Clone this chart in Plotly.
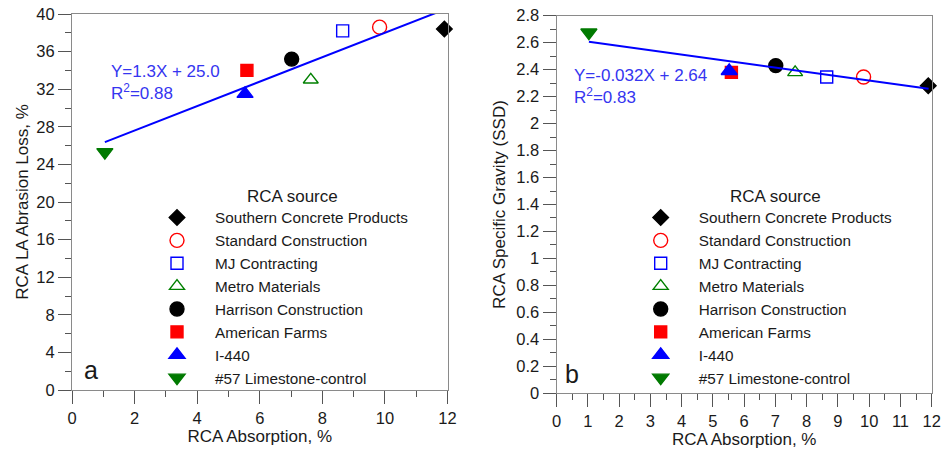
import plotly.graph_objects as go

sources = ["Southern Concrete Products", "Standard Construction", "MJ Contracting",
           "Metro Materials", "Harrison Construction", "American Farms", "I-440",
           "#57 Limestone-control"]
absorption_a = [11.9, 9.83, 8.65, 7.63, 7.02, 5.59, 5.53, 1.05]
abrasion = [38.4, 38.6, 38.2, 33.0, 35.2, 34.0, 31.5, 25.3]
absorption_b = [11.89, 9.82, 8.64, 7.63, 7.01, 5.59, 5.52, 1.03]
gravity = [2.28, 2.345, 2.345, 2.38, 2.43, 2.38, 2.39, 2.675]

fit_a_x = [1.05, 11.9]
fit_a_y = [26.37, 40.47]
fit_b_x = [1.03, 11.9]
fit_b_y = [2.607, 2.259]

symbols = ["diamond", "circle-open", "square-open", "triangle-up-open", "circle",
           "square", "triangle-up", "triangle-down"]
colors = ["#000000", "#ff0000", "#0000ff", "#008000", "#000000", "#ff0000", "#0000ff", "#007a00"]
sizes = [12, 14, 12, 13, 14, 12, 14, 14]

xa_ticks = [0, 2, 4, 6, 8, 10, 12]
ya_ticks = [0, 4, 8, 12, 16, 20, 24, 28, 32, 36, 40]
xb_ticks = list(range(0, 13))
yb_vals = [0, 0.2, 0.4, 0.6, 0.8, 1.0, 1.2, 1.4, 1.6, 1.8, 2.0, 2.2, 2.4, 2.6, 2.8]
yb_text = ["0", "0.2", "0.4", "0.6", "0.8", "1", "1.2", "1.4", "1.6", "1.8", "2",
           "2.2", "2.4", "2.6", "2.8"]

FONT = "Arial, Liberation Sans, sans-serif"
TXT = "#1a1a1a"
LINE = "#8a8a8a"
AX = "#555555"
EQ = "#3535f0"

W, H = 943, 451


def px(xp):
    return xp / W


def py(yp):
    return 1 - yp / H


fig = go.Figure()

for i, name in enumerate(sources):
    mk = dict(symbol=symbols[i], color=colors[i], size=sizes[i],
              line=dict(color=colors[i], width=1.4))
    fig.add_trace(go.Scatter(x=[absorption_a[i]], y=[abrasion[i]], mode="markers",
                             name=name, marker=mk, xaxis="x", yaxis="y",
                             legend="legend", cliponaxis=False))
    fig.add_trace(go.Scatter(x=[absorption_b[i]], y=[gravity[i]], mode="markers",
                             name=name, marker=mk, xaxis="x2", yaxis="y2",
                             legend="legend2", cliponaxis=False))

fig.add_trace(go.Scatter(x=fit_a_x, y=fit_a_y, mode="lines", line=dict(color="#0000ff", width=2),
                         showlegend=False, xaxis="x", yaxis="y"))
fig.add_trace(go.Scatter(x=fit_b_x, y=fit_b_y, mode="lines", line=dict(color="#0000ff", width=2),
                         showlegend=False, xaxis="x2", yaxis="y2"))

axis_common = dict(showline=True, linecolor=LINE, linewidth=1.2, mirror=True,
                   showgrid=False, zeroline=False, ticks="outside", tickcolor=AX,
                   ticklen=13, automargin=False,
                   tickfont=dict(family=FONT, size=16.5, color=TXT),
                   title_font=dict(family=FONT, size=17, color=TXT))
minor_common = dict(ticklen=6, tickcolor=AX, ticks="outside")

leg_font = dict(family=FONT, size=15.3, color=TXT)

fig.update_layout(
    width=W, height=H,
    margin=dict(l=0, r=0, t=0, b=0),
    plot_bgcolor="white", paper_bgcolor="white",
    font=dict(family=FONT, color=TXT),
    xaxis=dict(axis_common, domain=[px(72), px(447.5)], range=[0, 12], tickvals=xa_ticks,
               minor=dict(minor_common, dtick=1),
               title=dict(text="RCA Absorption, %", standoff=2), anchor="y"),
    yaxis=dict(axis_common, domain=[py(390), py(14)], range=[0, 40], tickvals=ya_ticks,
               minor=dict(minor_common, dtick=2),
               title=dict(text="RCA LA Abrasion Loss, %", standoff=3), anchor="x"),
    xaxis2=dict(axis_common, domain=[px(556.7), px(931.7)], range=[0, 12], tickvals=xb_ticks,
                minor=dict(minor_common, dtick=0.5),
                title=dict(text="RCA Absorption, %", standoff=2), anchor="y2"),
    yaxis2=dict(axis_common, domain=[py(393.3), py(15.7)], range=[0, 2.8], tickvals=yb_vals,
                ticktext=yb_text, minor=dict(minor_common, dtick=0.1),
                title=dict(text="RCA Specific Gravity (SSD)", standoff=6), anchor="x2"),
    legend=dict(x=px(139), y=py(201), xanchor="left", yanchor="top",
                bgcolor="rgba(0,0,0,0)", itemwidth=66, tracegroupgap=0,
                font=leg_font),
    legend2=dict(x=px(622.7), y=py(201), xanchor="left", yanchor="top",
                 bgcolor="rgba(0,0,0,0)", itemwidth=66, tracegroupgap=0,
                 font=leg_font),
    annotations=[
        dict(text="RCA source", xref="paper", yref="paper", x=px(292), y=py(196.5),
             xanchor="center", yanchor="middle", showarrow=False,
             font=dict(family=FONT, size=17, color=TXT)),
        dict(text="RCA source", xref="paper", yref="paper", x=px(775), y=py(196),
             xanchor="center", yanchor="middle", showarrow=False,
             font=dict(family=FONT, size=17, color=TXT)),
        dict(text="Y=1.3X + 25.0", xref="x", yref="y", x=1.17, y=33.86,
             xanchor="left", yanchor="middle", showarrow=False,
             font=dict(family=FONT, size=17, color=EQ)),
        dict(text="R<sup>2</sup>=0.88", xref="x", yref="y", x=1.17, y=31.7,
             xanchor="left", yanchor="middle", showarrow=False,
             font=dict(family=FONT, size=17, color=EQ)),
        dict(text="Y=-0.032X + 2.64", xref="x2", yref="y2", x=0.48, y=2.36,
             xanchor="left", yanchor="middle", showarrow=False,
             font=dict(family=FONT, size=17, color=EQ)),
        dict(text="R<sup>2</sup>=0.83", xref="x2", yref="y2", x=0.48, y=2.205,
             xanchor="left", yanchor="middle", showarrow=False,
             font=dict(family=FONT, size=17, color=EQ)),
        dict(text="a", xref="x", yref="y", x=0.32, y=2.13, xanchor="left", yanchor="middle",
             showarrow=False, font=dict(family=FONT, size=25, color=TXT)),
        dict(text="b", xref="x2", yref="y2", x=0.2, y=0.143, xanchor="left", yanchor="middle",
             showarrow=False, font=dict(family=FONT, size=25, color=TXT)),
    ],
)

# remove the browser's default 8px body margin so the 943x451 figure fills the window
fig.write_html("out.html", config={"displayModeBar": False},
               post_script="document.body.style.margin='0';document.body.style.overflow='hidden';")
